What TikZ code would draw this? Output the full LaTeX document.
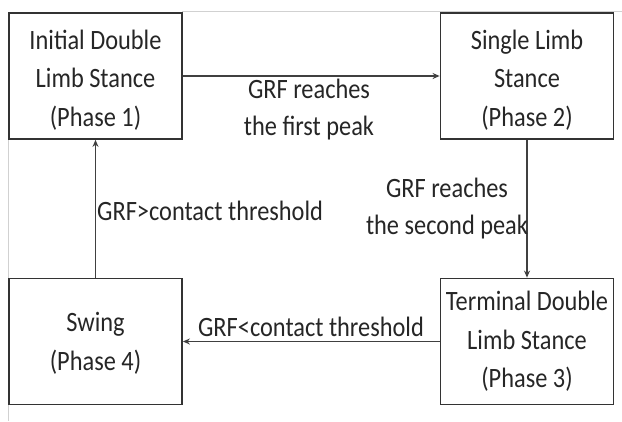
\documentclass[tikz,border=0pt]{standalone}
\usepackage{fontspec}
\setmainfont{Carlito}[FakeStretch=0.87]
\usetikzlibrary{arrows.meta}
\begin{document}
\begin{tikzpicture}[x=1pt,y=-1pt,
  box/.style={draw=black!80, line width=1.8pt, minimum width=173pt, minimum height=126pt, inner sep=0pt},
  boxtext/.style={align=center, inner sep=0pt, text=black!85, font=\fontsize{28}{38.5}\selectfont},
  arr/.style={draw=black!75, line width=1.4pt, -{Stealth[length=7pt,width=6pt]}},
  lbl/.style={text=black!85, align=center, inner sep=0pt, font=\fontsize{28}{37}\selectfont},
  faint/.style={draw=black!18, line width=1pt}]
\useasboundingbox (0,0) rectangle (622,421);
\fill[white] (0,0) rectangle (622,421);
\coordinate (ft1) at (182,11);
\coordinate (ft2) at (622,11);
\coordinate (fl1) at (8,139);
\coordinate (fl2) at (8,421);
\draw[faint] (ft1) -- (ft2);
\draw[faint] (fl1) -- (fl2);
\node[box, label={[boxtext, yshift=-4pt]center:{Initial Double\\Limb Stance\\(Phase 1)}}] (p1) at (95.5,76) {};
\node[box, label={[boxtext, yshift=-4pt]center:{Single Limb\\Stance\\(Phase 2)}}] (p2) at (527,76) {};
\node[box, label={[boxtext, yshift=0pt]center:{Terminal Double\\Limb Stance\\(Phase 3)}}] (p3) at (527,341.5) {};
\node[box, label={[boxtext, yshift=-2pt]center:{Swing\\(Phase 4)}}] (p4) at (95.5,341.5) {};
\draw[arr] (p1) -- (p2);
\draw[arr] (p2) -- (p3);
\draw[arr] (p3) -- (p4);
\draw[arr] (p4) -- (p1);
\node[lbl] (l12) at (309,110) {GRF reaches\\the first peak};
\node[lbl] (l23) at (447,209) {GRF reaches\\the second peak};
\node[lbl, anchor=west] (l41) at (97,211) {GRF>contact threshold};
\node[lbl] (l34) at (311,327) {GRF<contact threshold};
\end{tikzpicture}
\end{document}
